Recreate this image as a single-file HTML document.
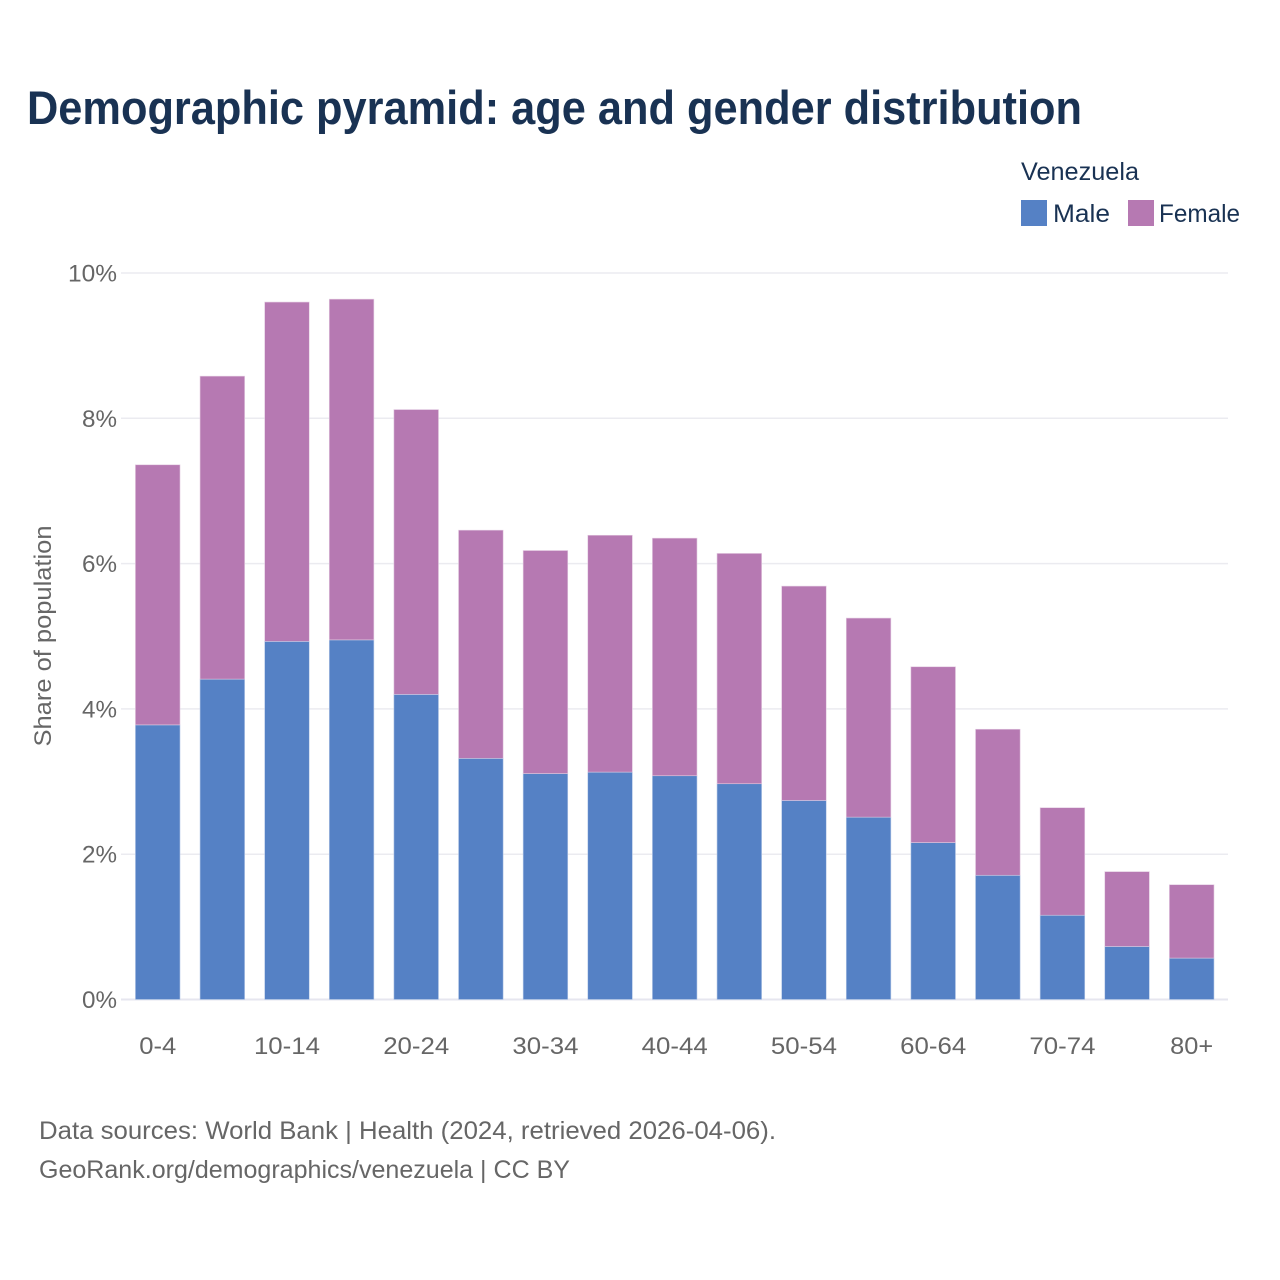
<!DOCTYPE html>
<html lang="en">
<head>
<meta charset="utf-8">
<title>Demographic pyramid: Venezuela</title>
<style>
html,body{margin:0;padding:0;background:#fff;}
svg{display:block;}
text{font-family:"Liberation Sans",sans-serif;}
</style>
</head>
<body>
<svg id="chart" xmlns="http://www.w3.org/2000/svg" width="1280" height="1280" viewBox="0 0 1280 1280">
  <rect x="0" y="0" width="1280" height="1280" fill="#ffffff"/>
  <text x="27" y="124" font-size="47" font-weight="700" fill="#193253" textLength="1055" lengthAdjust="spacingAndGlyphs">Demographic pyramid: age and gender distribution</text>
  <g>
    <text x="1021" y="180" font-size="25" fill="#193253" textLength="118" lengthAdjust="spacingAndGlyphs">Venezuela</text>
    <rect x="1021" y="200" width="26" height="26" fill="#5581c5"/>
    <text x="1053" y="222" font-size="25" fill="#193253" textLength="57" lengthAdjust="spacingAndGlyphs">Male</text>
    <rect x="1128" y="200" width="26" height="26" fill="#b679b2"/>
    <text x="1159" y="222" font-size="25" fill="#193253" textLength="81" lengthAdjust="spacingAndGlyphs">Female</text>
  </g>
  <g id="grid"></g>
  <g id="y-ticks"></g>
  <g id="bars"></g>
  <g id="x-ticks"></g>
  <text transform="translate(51 636) rotate(-90)" text-anchor="middle" font-size="24" fill="#666666" textLength="221" lengthAdjust="spacingAndGlyphs">Share of population</text>
  <text x="39" y="1139" font-size="25" fill="#666666" textLength="737" lengthAdjust="spacingAndGlyphs">Data sources: World Bank | Health (2024, retrieved 2026-04-06).</text>
  <text x="39" y="1178" font-size="25" fill="#666666" textLength="531" lengthAdjust="spacingAndGlyphs">GeoRank.org/demographics/venezuela | CC BY</text>
</svg>
<script>
var categories = ["0-4","5-9","10-14","15-19","20-24","25-29","30-34","35-39","40-44","45-49","50-54","55-59","60-64","65-69","70-74","75-79","80+"];
var maleValues = [3.78,4.41,4.93,4.95,4.20,3.32,3.11,3.13,3.08,2.97,2.74,2.51,2.16,1.71,1.16,0.73,0.57];
var femaleValues = [3.58,4.17,4.67,4.69,3.92,3.14,3.07,3.26,3.27,3.17,2.95,2.74,2.42,2.01,1.48,1.03,1.01];
var yTickValues = [0,2,4,6,8,10];
var xTickLabels = ["0-4","10-14","20-24","30-34","40-44","50-54","60-64","70-74","80+"];

var NS = "http://www.w3.org/2000/svg";
var plotLeft = 121, plotRight = 1228;
var bandLeft = 125.4, bandRight = 1224;
var y0 = 999.5, y10 = 273;
var yMax = 10;
var barWidth = 44.6;

function xCenter(i) {
  var step = (bandRight - bandLeft) / categories.length;
  return bandLeft + step * (i + 0.5);
}
function yPos(v) {
  return y0 - (v / yMax) * (y0 - y10);
}
function make(tag, attrs, parent) {
  var el = document.createElementNS(NS, tag);
  for (var k in attrs) el.setAttribute(k, attrs[k]);
  parent.appendChild(el);
  return el;
}

var gridG = document.getElementById("grid");
var yTicksG = document.getElementById("y-ticks");
yTickValues.forEach(function (t) {
  var line = make("line", {x1: plotLeft, x2: plotRight, y1: yPos(t), y2: yPos(t), stroke: t === 0 ? "#e6e6ef" : "#ebebf0", "stroke-width": t === 0 ? 2 : 1.5}, gridG);
  
  
  var label = make("text", {x: 117, y: yPos(t) + 8.5, "text-anchor": "end", "font-size": 24, fill: "#666666"}, yTicksG);
  
  
  label.setAttribute('textLength', t === 10 ? 49 : 35);
  label.setAttribute('lengthAdjust', 'spacingAndGlyphs');
  label.textContent = t + "%";
});

var barsG = document.getElementById("bars");
categories.forEach(function (c, i) {
  var x = xCenter(i) - barWidth / 2;
  var male = maleValues[i];
  var female = femaleValues[i];
  var m = make("rect", {x: x, y: yPos(male), width: barWidth, height: yPos(0) - yPos(male), fill: "#5581c5", stroke: "#b9cbe8", "stroke-width": 0.6}, barsG);
  
  
  var f = make("rect", {x: x, y: yPos(male + female), width: barWidth, height: yPos(male) - yPos(male + female), fill: "#b679b2", stroke: "#e3cbe1", "stroke-width": 0.6}, barsG);
  
  
});

var xTicksG = document.getElementById("x-ticks");
xTickLabels.forEach(function (lab) {
  var i = categories.indexOf(lab);
  var t = make("text", {x: xCenter(i), y: 1054, "text-anchor": "middle", "font-size": 24, fill: "#666666"}, xTicksG);
  
  
  t.setAttribute('textLength', lab.length === 5 ? 66 : (lab.length === 3 && lab !== "0-4" ? 43 : 37));
  t.setAttribute('lengthAdjust', 'spacingAndGlyphs');
  t.textContent = lab;
});
</script>
</body>
</html>
